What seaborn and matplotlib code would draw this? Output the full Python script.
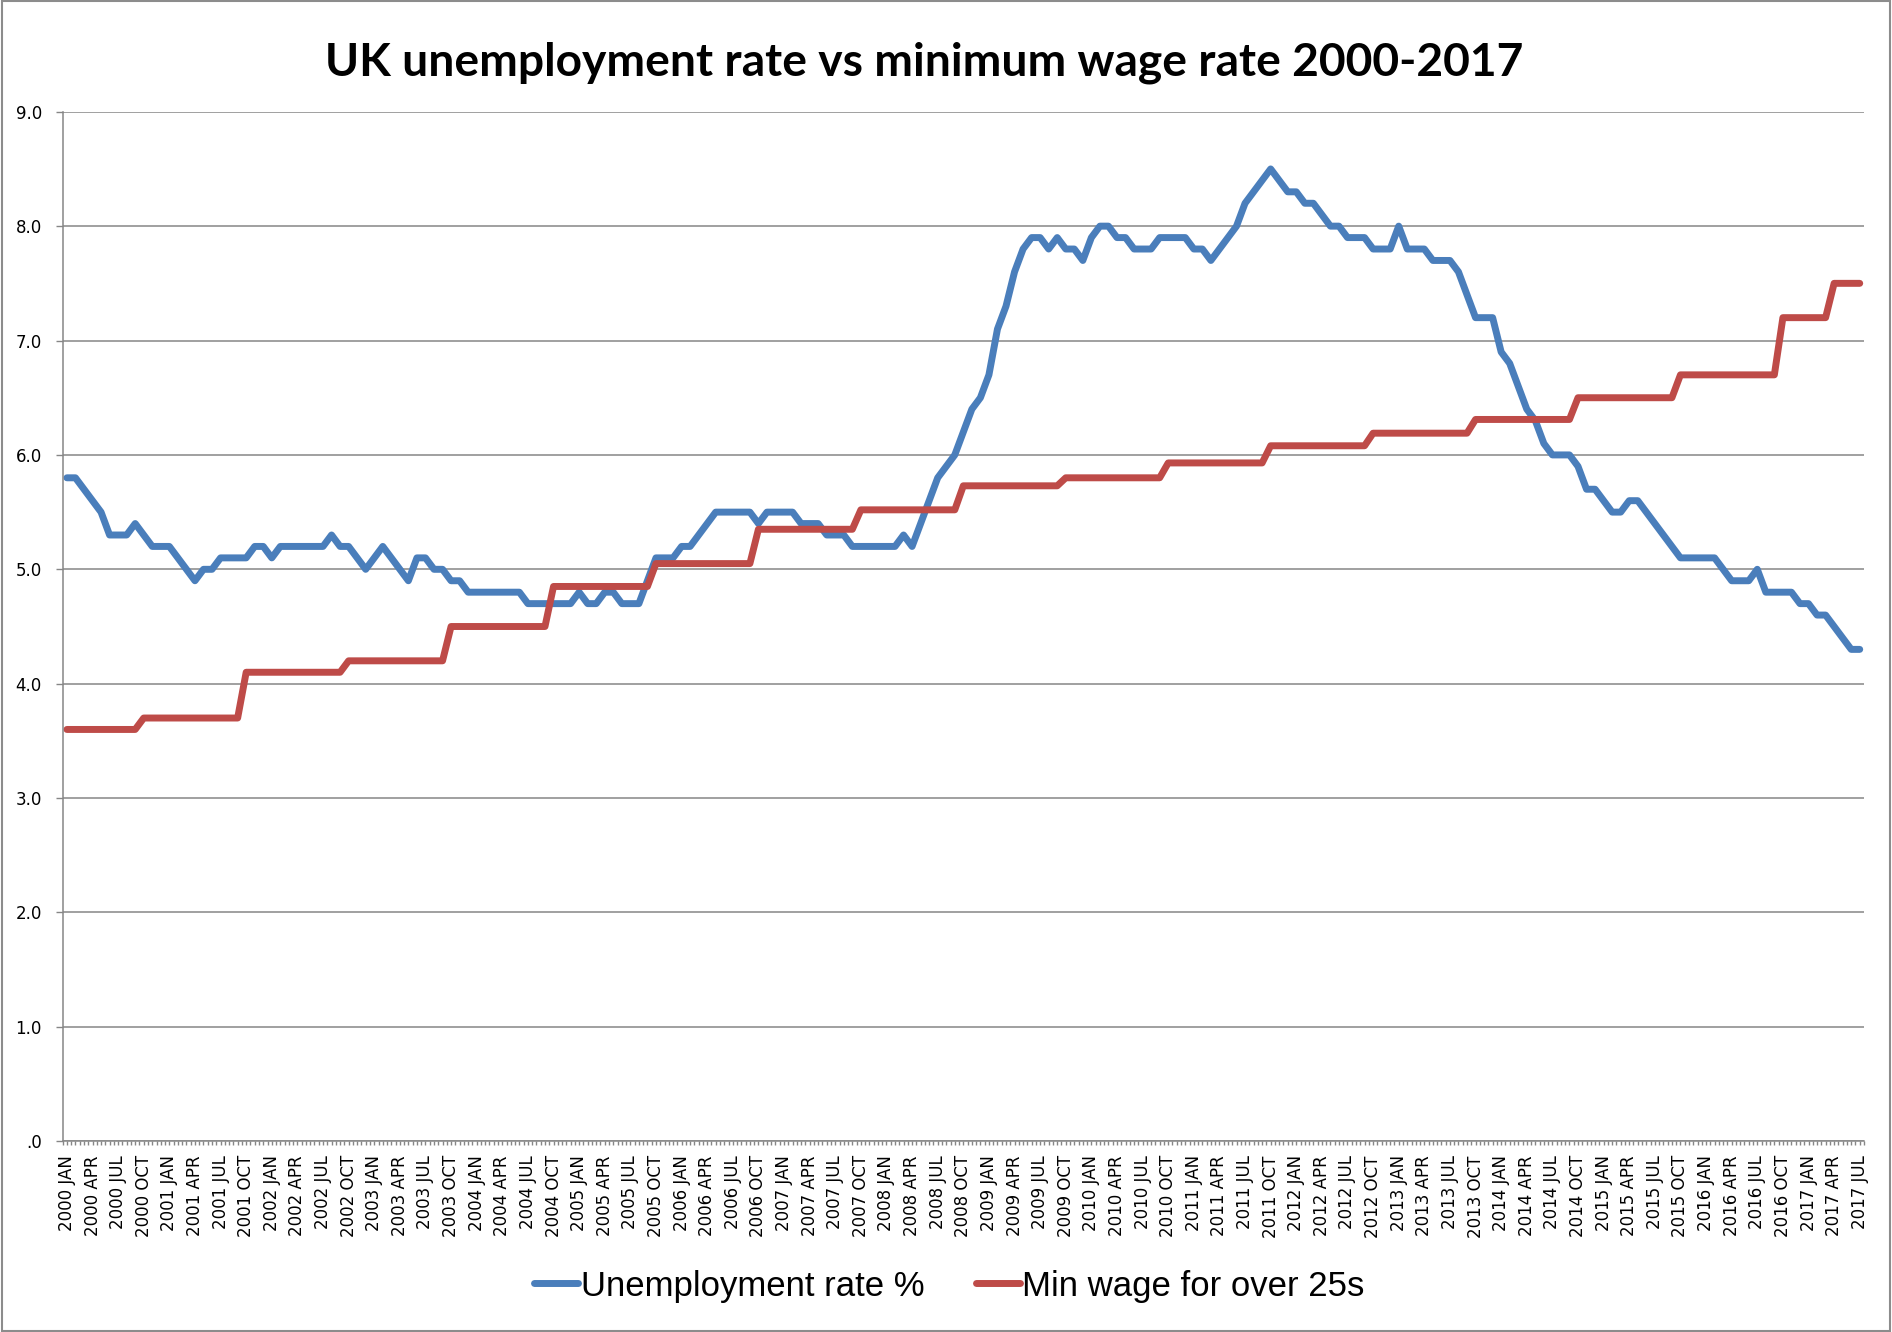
"""UK unemployment rate vs minimum wage rate 2000-2017."""

import numpy as np
import pandas as pd
import seaborn as sns
import matplotlib.pyplot as plt
import matplotlib.patches as mpatches

# Monthly unemployment rate %, Jan 2000 - Jul 2017 (one row per year).
unemployment = [
    5.8, 5.8, 5.7, 5.6, 5.5, 5.3, 5.3, 5.3, 5.4, 5.3, 5.2, 5.2,  # 2000
    5.2, 5.1, 5.0, 4.9, 5.0, 5.0, 5.1, 5.1, 5.1, 5.1, 5.2, 5.2,  # 2001
    5.1, 5.2, 5.2, 5.2, 5.2, 5.2, 5.2, 5.3, 5.2, 5.2, 5.1, 5.0,  # 2002
    5.1, 5.2, 5.1, 5.0, 4.9, 5.1, 5.1, 5.0, 5.0, 4.9, 4.9, 4.8,  # 2003
    4.8, 4.8, 4.8, 4.8, 4.8, 4.8, 4.7, 4.7, 4.7, 4.7, 4.7, 4.7,  # 2004
    4.8, 4.7, 4.7, 4.8, 4.8, 4.7, 4.7, 4.7, 4.9, 5.1, 5.1, 5.1,  # 2005
    5.2, 5.2, 5.3, 5.4, 5.5, 5.5, 5.5, 5.5, 5.5, 5.4, 5.5, 5.5,  # 2006
    5.5, 5.5, 5.4, 5.4, 5.4, 5.3, 5.3, 5.3, 5.2, 5.2, 5.2, 5.2,  # 2007
    5.2, 5.2, 5.3, 5.2, 5.4, 5.6, 5.8, 5.9, 6.0, 6.2, 6.4, 6.5,  # 2008
    6.7, 7.1, 7.3, 7.6, 7.8, 7.9, 7.9, 7.8, 7.9, 7.8, 7.8, 7.7,  # 2009
    7.9, 8.0, 8.0, 7.9, 7.9, 7.8, 7.8, 7.8, 7.9, 7.9, 7.9, 7.9,  # 2010
    7.8, 7.8, 7.7, 7.8, 7.9, 8.0, 8.2, 8.3, 8.4, 8.5, 8.4, 8.3,  # 2011
    8.3, 8.2, 8.2, 8.1, 8.0, 8.0, 7.9, 7.9, 7.9, 7.8, 7.8, 7.8,  # 2012
    8.0, 7.8, 7.8, 7.8, 7.7, 7.7, 7.7, 7.6, 7.4, 7.2, 7.2, 7.2,  # 2013
    6.9, 6.8, 6.6, 6.4, 6.3, 6.1, 6.0, 6.0, 6.0, 5.9, 5.7, 5.7,  # 2014
    5.6, 5.5, 5.5, 5.6, 5.6, 5.5, 5.4, 5.3, 5.2, 5.1, 5.1, 5.1,  # 2015
    5.1, 5.1, 5.0, 4.9, 4.9, 4.9, 5.0, 4.8, 4.8, 4.8, 4.8, 4.7,  # 2016
    4.7, 4.6, 4.6, 4.5, 4.4, 4.3, 4.3,                           # 2017
]

# Minimum wage for over 25s: each level and how many months it lasted.
wage_levels = [3.60, 3.70, 4.10, 4.20, 4.50, 4.85, 5.05, 5.35, 5.52, 5.73,
               5.80, 5.93, 6.08, 6.19, 6.31, 6.50, 6.70, 7.20, 7.50]
wage_months = [9, 12, 12, 12, 12, 12, 12, 12, 12, 12,
               12, 12, 12, 12, 12, 12, 12, 6, 4]
min_wage = np.repeat(wage_levels, wage_months)

month_names = ["JAN", "FEB", "MAR", "APR", "MAY", "JUN",
               "JUL", "AUG", "SEP", "OCT", "NOV", "DEC"]
start_year = 2000
y_ticks = [0, 1, 2, 3, 4, 5, 6, 7, 8, 9]
y_tick_labels = [".0", "1.0", "2.0", "3.0", "4.0", "5.0",
                 "6.0", "7.0", "8.0", "9.0"]

series_names = ["Unemployment rate %", "Min wage for over 25s"]
palette = {series_names[0]: "#4A7EBB", series_names[1]: "#BE4B48"}

# Long-form table for seaborn.
n = len(unemployment)
month_idx = np.arange(n)
df = pd.DataFrame({
    "month": np.concatenate([month_idx, month_idx]),
    "value": np.concatenate([unemployment, min_wage]),
    "series": [series_names[0]] * n + [series_names[1]] * n,
})

sns.set_style("white")
plt.rcParams["font.family"] = ["DejaVu Sans"]
plt.rcParams["text.color"] = "black"

fig = plt.figure(figsize=(18.92, 13.32), dpi=100)
ax = fig.add_axes([0.0331, 0.1432, 0.9521, 0.7729])

sns.lineplot(
    data=df,
    x="month",
    y="value",
    hue="series",
    hue_order=series_names,
    palette=palette,
    linewidth=5.0,
    legend=False,
    ax=ax,
    solid_joinstyle="round",
    solid_capstyle="round",
)

# Axis limits and ticks.
ax.set_xlim(-0.5, n - 0.5)
ax.set_ylim(0, 9)
ax.set_yticks(y_ticks)
ax.set_yticklabels(y_tick_labels)

quarter_pos = [i for i in month_idx if i % 3 == 0]
quarter_labels = [
    f"{start_year + i // 12} {month_names[i % 12]}" for i in quarter_pos
]
ax.set_xticks(quarter_pos)
ax.set_xticklabels(quarter_labels, rotation=90)
ax.set_xticks(np.arange(-0.5, n, 0.5), minor=True)

ax.set_xlabel("")
ax.set_ylabel("")

grid_col = "#868686"
ax.yaxis.grid(True, color=grid_col, linewidth=1.1)
ax.xaxis.grid(False)
ax.set_axisbelow(True)
for side in ["top", "right"]:
    ax.spines[side].set_visible(False)
for side in ["left", "bottom"]:
    ax.spines[side].set_color(grid_col)
    ax.spines[side].set_linewidth(1.1)

ax.tick_params(axis="y", which="major", direction="out", length=5,
               width=1, color=grid_col, labelcolor="black", labelsize=12,
               pad=10, left=True)
ax.tick_params(axis="x", which="both", direction="out", length=3,
               width=1, color=grid_col, bottom=True)
ax.tick_params(axis="x", which="major", labelsize=12, pad=7,
               labelcolor="black")

# Title.
fig.text(0.4887, 0.953, "UK unemployment rate vs minimum wage rate 2000-2017",
         ha="center", va="center", fontsize=33.2, fontweight="bold",
         color="black", family=["Lato", "DejaVu Sans"])

# Legend below the axis.
handles = [
    plt.Line2D([0], [0], color=palette[s], linewidth=5.0,
               solid_capstyle="round")
    for s in series_names
]
fig.legend(
    handles=handles,
    labels=series_names,
    loc="center",
    bbox_to_anchor=(0.5019, 0.0345),
    ncol=2,
    frameon=False,
    handlelength=1.25,
    handletextpad=0.08,
    columnspacing=1.5,
    labelcolor="black",
    prop={"family": ["Liberation Sans", "DejaVu Sans"], "size": 25},
)

# Chart border.
fig.patches.append(
    mpatches.Rectangle((0.0008, 0.0008), 0.9984, 0.9984,
                       transform=fig.transFigure, fill=False,
                       edgecolor="#8c8c8c", linewidth=1.5)
)

fig.savefig("out.png", dpi=100)
plt.close()
